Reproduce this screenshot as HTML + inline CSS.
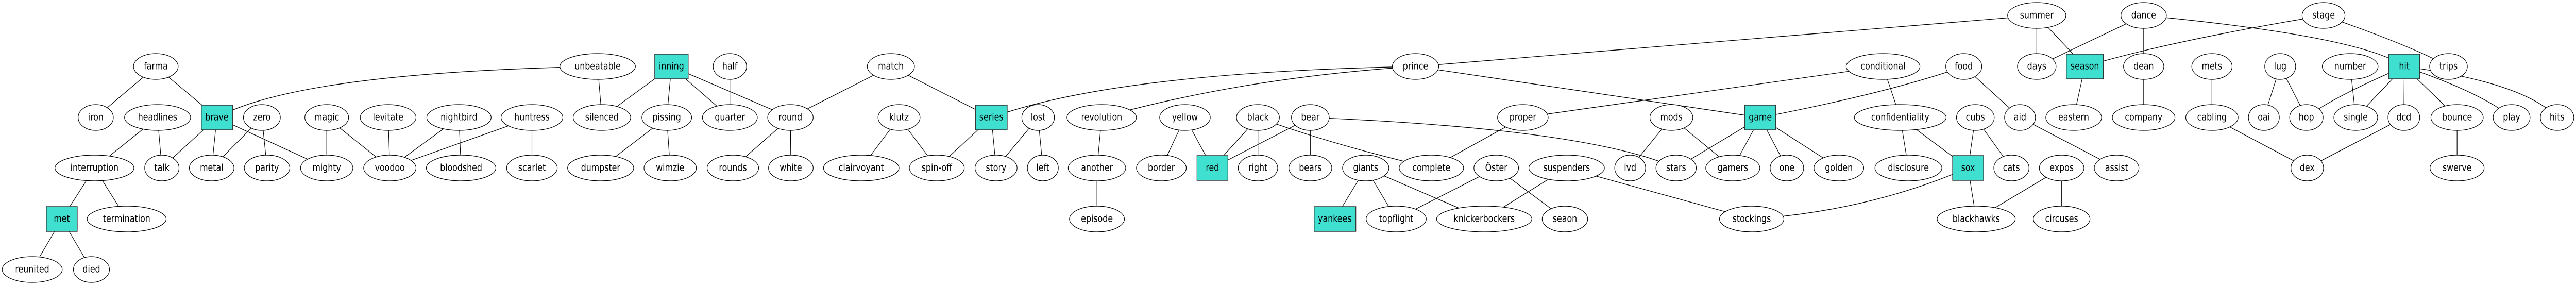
<!DOCTYPE html>
<html><head><meta charset="utf-8"><meta name="viewport" content="width=6000, initial-scale=1"><style>
html,body{margin:0;padding:0;background:#fff;width:100%;height:100%;overflow:hidden;}
svg{display:block;width:100vw;height:100vh;}
text{font-family:"DejaVu Sans","Liberation Sans",sans-serif;font-size:19px;fill:#000;text-anchor:middle;dominant-baseline:central;}
.e line,.e path{stroke:#000;stroke-width:1.3;fill:none;}
ellipse{fill:#fff;stroke:#000;stroke-width:1.3;}
rect{fill:#40E0D0;stroke:#333;stroke-width:1.5;}
</style></head><body>
<svg viewBox="0 0 6000 555" preserveAspectRatio="none" xmlns="http://www.w3.org/2000/svg">
<g class="e">
<line x1="363" y1="129" x2="223" y2="228"/><line x1="363" y1="129" x2="505" y2="228"/>
<line x1="367" y1="228" x2="220" y2="326"/><line x1="367" y1="228" x2="377" y2="326"/>
<line x1="505" y1="228" x2="377" y2="326"/><line x1="505" y1="228" x2="493" y2="326"/><line x1="505" y1="228" x2="761" y2="326"/>
<line x1="610" y1="228" x2="493" y2="326"/><line x1="610" y1="228" x2="622" y2="326"/>
<line x1="761" y1="228" x2="761" y2="326"/><line x1="761" y1="228" x2="908" y2="326"/>
<line x1="904" y1="228" x2="908" y2="326"/><line x1="1069" y1="228" x2="908" y2="326"/><line x1="1069" y1="228" x2="1074" y2="326"/>
<line x1="1239" y1="228" x2="908" y2="326"/><line x1="1239" y1="228" x2="1239" y2="326"/>
<line x1="220" y1="326" x2="144" y2="425"/><line x1="220" y1="326" x2="295" y2="425"/>
<line x1="144" y1="425" x2="75" y2="523"/><line x1="144" y1="425" x2="213" y2="523"/>
<line x1="1392" y1="129" x2="1402" y2="228"/><line x1="1564" y1="129" x2="1402" y2="228"/><line x1="1564" y1="129" x2="1553" y2="228"/>
<line x1="1564" y1="129" x2="1700" y2="228"/><line x1="1564" y1="129" x2="1841" y2="228"/><line x1="1700" y1="129" x2="1700" y2="228"/>
<line x1="1553" y1="228" x2="1399" y2="326"/><line x1="1553" y1="228" x2="1561" y2="326"/>
<line x1="1841" y1="228" x2="1707" y2="326"/><line x1="1841" y1="228" x2="1842" y2="326"/>
<line x1="2075" y1="129" x2="1841" y2="228"/><line x1="2075" y1="129" x2="2309" y2="228"/>
<line x1="2094" y1="228" x2="2006" y2="326"/><line x1="2094" y1="228" x2="2182" y2="326"/>
<line x1="2309" y1="228" x2="2182" y2="326"/><line x1="2309" y1="228" x2="2320" y2="326"/>
<line x1="2418" y1="228" x2="2320" y2="326"/><line x1="2418" y1="228" x2="2429" y2="326"/>
<line x1="2566" y1="228" x2="2555" y2="326"/><line x1="2555" y1="326" x2="2555" y2="425"/>
<line x1="2760" y1="228" x2="2705" y2="326"/><line x1="2760" y1="228" x2="2824" y2="326"/>
<line x1="2930" y1="228" x2="2824" y2="326"/><line x1="2930" y1="228" x2="2930" y2="326"/>
<line x1="3052" y1="228" x2="2824" y2="326"/><line x1="3052" y1="228" x2="3052" y2="326"/>
<line x1="3547" y1="228" x2="3334" y2="326"/><line x1="3893" y1="228" x2="3797" y2="326"/><line x1="3893" y1="228" x2="4036" y2="326"/>
<line x1="3904" y1="326" x2="4100" y2="228"/>
<line x1="3181" y1="326" x2="3109" y2="425"/><line x1="3181" y1="326" x2="3252" y2="425"/><line x1="3181" y1="326" x2="3457" y2="425"/>
<line x1="3485" y1="326" x2="3252" y2="425"/><line x1="3485" y1="326" x2="3645" y2="425"/>
<line x1="3649" y1="326" x2="3457" y2="425"/><line x1="3649" y1="326" x2="4080" y2="425"/>
<line x1="3297" y1="129" x2="4744" y2="30"/><line x1="3297" y1="129" x2="4100" y2="228"/>
<line x1="3547" y1="228" x2="4386" y2="129"/>
<line x1="4744" y1="30" x2="4744" y2="129"/><line x1="4744" y1="30" x2="4856" y2="129"/>
<line x1="4993" y1="30" x2="4744" y2="129"/><line x1="4993" y1="30" x2="4993" y2="129"/><line x1="4993" y1="129" x2="4993" y2="228"/>
<line x1="4856" y1="129" x2="4830" y2="228"/>
<line x1="4386" y1="129" x2="4426" y2="228"/><line x1="4574" y1="129" x2="4705" y2="228"/>
<line x1="4100" y1="228" x2="4036" y2="326"/><line x1="4100" y1="228" x2="4162" y2="326"/><line x1="4100" y1="228" x2="4283" y2="326"/>
<line x1="4426" y1="228" x2="4445" y2="326"/><line x1="4426" y1="228" x2="4584" y2="326"/>
<line x1="4601" y1="228" x2="4584" y2="326"/><line x1="4601" y1="228" x2="4685" y2="326"/>
<line x1="4705" y1="228" x2="4930" y2="326"/>
<line x1="4584" y1="326" x2="4603" y2="425"/><line x1="4802" y1="326" x2="4603" y2="425"/><line x1="4802" y1="326" x2="4802" y2="425"/>
<line x1="5152" y1="129" x2="5152" y2="228"/><line x1="5311" y1="129" x2="5273" y2="228"/><line x1="5311" y1="129" x2="5372" y2="228"/>
<line x1="5474" y1="129" x2="5487" y2="228"/>
<line x1="5600" y1="129" x2="5487" y2="228"/><line x1="5600" y1="129" x2="5599" y2="228"/><line x1="5600" y1="129" x2="5723" y2="228"/>
<line x1="5152" y1="228" x2="5374" y2="326"/><line x1="5599" y1="228" x2="5374" y2="326"/><line x1="5723" y1="228" x2="5723" y2="326"/>
<path d="M505,228 Q700,140 1392,129"/>
<path d="M2309,228 Q2600,140 3297,129"/>
<path d="M2566,228 Q2900,150 3297,129"/>
<path d="M2930,228 Q3100,280 3334,326"/>
<path d="M3052,228 Q3700,250 3904,326"/>
<path d="M4100,228 Q4400,180 4574,129"/>
<path d="M4584,326 Q4350,410 4080,425"/>
<path d="M4993,30 Q5500,70 5600,129"/>
<path d="M5412,30 Q5050,80 4856,129"/>
<path d="M5412,30 Q5620,90 5703,129"/>
<path d="M5600,129 Q5430,190 5372,228"/>
<path d="M5600,129 Q5780,180 5850,228"/>
<path d="M5600,129 Q5880,160 5956,228"/>
</g>
<g>
<ellipse cx="363" cy="129" rx="52" ry="25"/><text x="363" y="129">farma</text>
<ellipse cx="223" cy="228" rx="41" ry="25"/><text x="223" y="228">iron</text>
<ellipse cx="367" cy="228" rx="77" ry="25"/><text x="367" y="228">headlines</text>
<ellipse cx="610" cy="228" rx="43" ry="25"/><text x="610" y="228">zero</text>
<ellipse cx="761" cy="228" rx="51" ry="25"/><text x="761" y="228">magic</text>
<ellipse cx="904" cy="228" rx="65" ry="25"/><text x="904" y="228">levitate</text>
<ellipse cx="1069" cy="228" rx="75" ry="25"/><text x="1069" y="228">nightbird</text>
<ellipse cx="1239" cy="228" rx="72" ry="25"/><text x="1239" y="228">huntress</text>
<ellipse cx="220" cy="326" rx="92" ry="25"/><text x="220" y="326">interruption</text>
<ellipse cx="377" cy="326" rx="40" ry="25"/><text x="377" y="326">talk</text>
<ellipse cx="493" cy="326" rx="52" ry="25"/><text x="493" y="326">metal</text>
<ellipse cx="622" cy="326" rx="53" ry="25"/><text x="622" y="326">parity</text>
<ellipse cx="761" cy="326" rx="61" ry="25"/><text x="761" y="326">mighty</text>
<ellipse cx="908" cy="326" rx="61" ry="25"/><text x="908" y="326">voodoo</text>
<ellipse cx="1074" cy="326" rx="81" ry="25"/><text x="1074" y="326">bloodshed</text>
<ellipse cx="1239" cy="326" rx="59" ry="25"/><text x="1239" y="326">scarlet</text>
<ellipse cx="295" cy="425" rx="92" ry="25"/><text x="295" y="425">termination</text>
<ellipse cx="75" cy="523" rx="70" ry="25"/><text x="75" y="523">reunited</text>
<ellipse cx="213" cy="523" rx="42" ry="25"/><text x="213" y="523">died</text>
<ellipse cx="1392" cy="129" rx="88" ry="25"/><text x="1392" y="129">unbeatable</text>
<ellipse cx="1700" cy="129" rx="39" ry="25"/><text x="1700" y="129">half</text>
<ellipse cx="1402" cy="228" rx="67" ry="25"/><text x="1402" y="228">silenced</text>
<ellipse cx="1553" cy="228" rx="58" ry="25"/><text x="1553" y="228">pissing</text>
<ellipse cx="1700" cy="228" rx="64" ry="25"/><text x="1700" y="228">quarter</text>
<ellipse cx="1841" cy="228" rx="53" ry="25"/><text x="1841" y="228">round</text>
<ellipse cx="1399" cy="326" rx="77" ry="25"/><text x="1399" y="326">dumpster</text>
<ellipse cx="1561" cy="326" rx="61" ry="25"/><text x="1561" y="326">wimzie</text>
<ellipse cx="1707" cy="326" rx="60" ry="25"/><text x="1707" y="326">rounds</text>
<ellipse cx="1842" cy="326" rx="52" ry="25"/><text x="1842" y="326">white</text>
<ellipse cx="2075" cy="129" rx="55" ry="25"/><text x="2075" y="129">match</text>
<ellipse cx="2094" cy="228" rx="49" ry="25"/><text x="2094" y="228">klutz</text>
<ellipse cx="2418" cy="228" rx="38" ry="25"/><text x="2418" y="228">lost</text>
<ellipse cx="2566" cy="228" rx="81" ry="25"/><text x="2566" y="228">revolution</text>
<ellipse cx="2760" cy="228" rx="59" ry="25"/><text x="2760" y="228">yellow</text>
<ellipse cx="2930" cy="228" rx="50" ry="25"/><text x="2930" y="228">black</text>
<ellipse cx="2006" cy="326" rx="88" ry="25"/><text x="2006" y="326">clairvoyant</text>
<ellipse cx="2182" cy="326" rx="64" ry="25"/><text x="2182" y="326">spin-off</text>
<ellipse cx="2320" cy="326" rx="49" ry="25"/><text x="2320" y="326">story</text>
<ellipse cx="2429" cy="326" rx="36" ry="25"/><text x="2429" y="326">left</text>
<ellipse cx="2555" cy="326" rx="67" ry="25"/><text x="2555" y="326">another</text>
<ellipse cx="2705" cy="326" rx="58" ry="25"/><text x="2705" y="326">border</text>
<ellipse cx="2930" cy="326" rx="46" ry="25"/><text x="2930" y="326">right</text>
<ellipse cx="2555" cy="425" rx="64" ry="25"/><text x="2555" y="425">episode</text>
<ellipse cx="3297" cy="129" rx="54" ry="25"/><text x="3297" y="129">prince</text>
<ellipse cx="3052" cy="228" rx="44" ry="25"/><text x="3052" y="228">bear</text>
<ellipse cx="3547" cy="228" rx="59" ry="25"/><text x="3547" y="228">proper</text>
<ellipse cx="3893" cy="228" rx="50" ry="25"/><text x="3893" y="228">mods</text>
<ellipse cx="3052" cy="326" rx="50" ry="25"/><text x="3052" y="326">bears</text>
<ellipse cx="3181" cy="326" rx="54" ry="25"/><text x="3181" y="326">giants</text>
<ellipse cx="3334" cy="326" rx="75" ry="25"/><text x="3334" y="326">complete</text>
<ellipse cx="3485" cy="326" rx="52" ry="25"/><text x="3485" y="326">Öster</text>
<ellipse cx="3649" cy="326" rx="88" ry="25"/><text x="3649" y="326">suspenders</text>
<ellipse cx="3797" cy="326" rx="36" ry="25"/><text x="3797" y="326">ivd</text>
<ellipse cx="3904" cy="326" rx="47" ry="25"/><text x="3904" y="326">stars</text>
<ellipse cx="3252" cy="425" rx="70" ry="25"/><text x="3252" y="425">topflight</text>
<ellipse cx="3457" cy="425" rx="111" ry="25"/><text x="3457" y="425">knickerbockers</text>
<ellipse cx="3645" cy="425" rx="53" ry="25"/><text x="3645" y="425">seaon</text>
<ellipse cx="4744" cy="30" rx="68" ry="25"/><text x="4744" y="30">summer</text>
<ellipse cx="4993" cy="30" rx="53" ry="25"/><text x="4993" y="30">dance</text>
<ellipse cx="4386" cy="129" rx="86" ry="25"/><text x="4386" y="129">conditional</text>
<ellipse cx="4574" cy="129" rx="42" ry="25"/><text x="4574" y="129">food</text>
<ellipse cx="4744" cy="129" rx="45" ry="25"/><text x="4744" y="129">days</text>
<ellipse cx="4993" cy="129" rx="47" ry="25"/><text x="4993" y="129">dean</text>
<ellipse cx="4426" cy="228" rx="107" ry="25"/><text x="4426" y="228">confidentiality</text>
<ellipse cx="4601" cy="228" rx="44" ry="25"/><text x="4601" y="228">cubs</text>
<ellipse cx="4705" cy="228" rx="36" ry="25"/><text x="4705" y="228">aid</text>
<ellipse cx="4830" cy="228" rx="65" ry="25"/><text x="4830" y="228">eastern</text>
<ellipse cx="4993" cy="228" rx="73" ry="25"/><text x="4993" y="228">company</text>
<ellipse cx="4036" cy="326" rx="63" ry="25"/><text x="4036" y="326">gamers</text>
<ellipse cx="4162" cy="326" rx="39" ry="25"/><text x="4162" y="326">one</text>
<ellipse cx="4283" cy="326" rx="58" ry="25"/><text x="4283" y="326">golden</text>
<ellipse cx="4445" cy="326" rx="78" ry="25"/><text x="4445" y="326">disclosure</text>
<ellipse cx="4685" cy="326" rx="41" ry="25"/><text x="4685" y="326">cats</text>
<ellipse cx="4802" cy="326" rx="52" ry="25"/><text x="4802" y="326">expos</text>
<ellipse cx="4930" cy="326" rx="52" ry="25"/><text x="4930" y="326">assist</text>
<ellipse cx="4080" cy="425" rx="75" ry="25"/><text x="4080" y="425">stockings</text>
<ellipse cx="4603" cy="425" rx="91" ry="25"/><text x="4603" y="425">blackhawks</text>
<ellipse cx="4802" cy="425" rx="66" ry="25"/><text x="4802" y="425">circuses</text>
<ellipse cx="5412" cy="30" rx="50" ry="25"/><text x="5412" y="30">stage</text>
<ellipse cx="5152" cy="129" rx="47" ry="25"/><text x="5152" y="129">mets</text>
<ellipse cx="5311" cy="129" rx="36" ry="25"/><text x="5311" y="129">lug</text>
<ellipse cx="5474" cy="129" rx="65" ry="25"/><text x="5474" y="129">number</text>
<ellipse cx="5703" cy="129" rx="44" ry="25"/><text x="5703" y="129">trips</text>
<ellipse cx="5152" cy="228" rx="61" ry="25"/><text x="5152" y="228">cabling</text>
<ellipse cx="5273" cy="228" rx="36" ry="25"/><text x="5273" y="228">oai</text>
<ellipse cx="5372" cy="228" rx="39" ry="25"/><text x="5372" y="228">hop</text>
<ellipse cx="5487" cy="228" rx="51" ry="25"/><text x="5487" y="228">single</text>
<ellipse cx="5599" cy="228" rx="37" ry="25"/><text x="5599" y="228">dcd</text>
<ellipse cx="5723" cy="228" rx="61" ry="25"/><text x="5723" y="228">bounce</text>
<ellipse cx="5850" cy="228" rx="43" ry="25"/><text x="5850" y="228">play</text>
<ellipse cx="5956" cy="228" rx="39" ry="25"/><text x="5956" y="228">hits</text>
<ellipse cx="5374" cy="326" rx="38" ry="25"/><text x="5374" y="326">dex</text>
<ellipse cx="5723" cy="326" rx="63" ry="25"/><text x="5723" y="326">swerve</text>
<rect x="469" y="204" width="73" height="48"/><text x="505" y="228">brave</text>
<rect x="108" y="401" width="72" height="48"/><text x="144" y="425">met</text>
<rect x="1525" y="105" width="78" height="48"/><text x="1564" y="129">inning</text>
<rect x="2272" y="204" width="74" height="48"/><text x="2309" y="228">series</text>
<rect x="2788" y="302" width="72" height="48"/><text x="2824" y="326">red</text>
<rect x="3061" y="401" width="97" height="48"/><text x="3109" y="425">yankees</text>
<rect x="4064" y="204" width="72" height="48"/><text x="4100" y="228">game</text>
<rect x="4548" y="302" width="72" height="48"/><text x="4584" y="326">sox</text>
<rect x="4813" y="105" width="86" height="48"/><text x="4856" y="129">season</text>
<rect x="5564" y="105" width="72" height="48"/><text x="5600" y="129">hit</text>
</g>
</svg>
</body></html>
